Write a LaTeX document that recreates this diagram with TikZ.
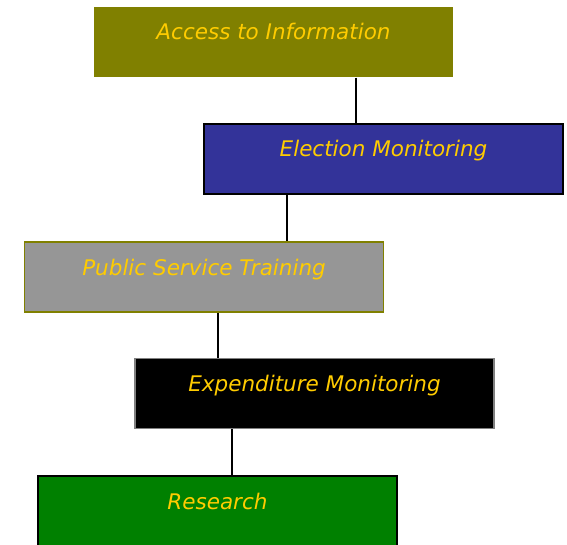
\documentclass[tikz,border=0pt]{standalone}
\usepackage{fontspec}
\setmainfont{DejaVu Sans}
\usepackage{xcolor}
\definecolor{olivebox}{RGB}{128,128,0}
\definecolor{bluebox}{RGB}{51,51,153}
\definecolor{greybox}{RGB}{150,150,150}
\definecolor{greenbox}{RGB}{0,128,0}
\definecolor{goldtext}{RGB}{255,204,0}
\begin{document}
\begin{tikzpicture}[x=1pt,y=-1pt]
\tikzstyle{card} =[rectangle, inner sep=0pt, line width=1.5pt, minimum width=359pt, text height=33pt, text depth=37pt, text=goldtext, font=\fontsize{21.5}{24}\selectfont\itshape]
\tikzstyle{link} =[line width=1.5pt]
\useasboundingbox (0,0) rectangle (567,545);
\node[card,fill=olivebox](access) at (273.5,42){Access to Information};
\node[card,fill=bluebox,draw=black](election) at (383.5,159){Election Monitoring};
\node[card,fill=greybox,draw=olivebox](public) at (204,277){Public Service Training};
\node[card,fill=black,draw=gray](expend) at (314.5,393.5){Expenditure Monitoring};
\node[card,fill=greenbox,draw=black](research) at (217.5,511){Research};

\draw [link] (356,0 |- access.south) to (356,0 |- election.north);
\draw [link] (287,0 |- election.south) to (287,0 |- public.north);
\draw [link] (218,0 |- public.south) to (218,0 |- expend.north);
\draw [link] (232,0 |- expend.south) to (232,0 |- research.north);
\end{tikzpicture}
\end{document}
